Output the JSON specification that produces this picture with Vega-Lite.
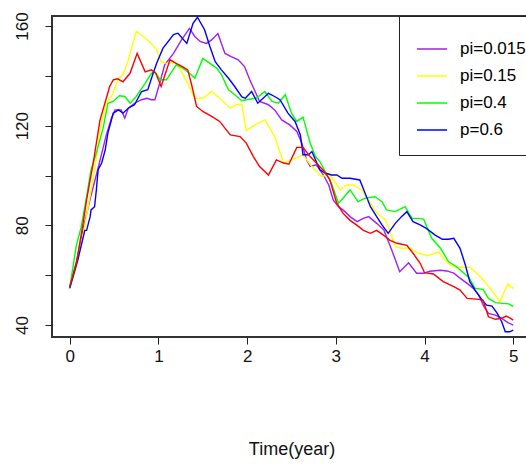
{
  "$schema": "https://vega.github.io/schema/vega-lite/v6.json",
  "width": 479,
  "height": 321,
  "autosize": "none",
  "padding": {"left": 52, "top": 16, "right": 0, "bottom": 135},
  "background": "white",
  "config": {
    "view": {"stroke": "#333", "strokeWidth": 2},
    "font": "Liberation Sans Narrow, Liberation Sans, Arial"
  },
  "data": {"values": [
    {"s":"pi=0.015","t":0,"v":55.3},{"s":"pi=0.015","t":0.08,"v":66},{"s":"pi=0.015","t":0.16,"v":80},{"s":"pi=0.015","t":0.24,"v":92},{"s":"pi=0.015","t":0.32,"v":103},{"s":"pi=0.015","t":0.41,"v":116},{"s":"pi=0.015","t":0.47,"v":123},{"s":"pi=0.015","t":0.51,"v":126.3},{"s":"pi=0.015","t":0.58,"v":126.3},{"s":"pi=0.015","t":0.62,"v":123},{"s":"pi=0.015","t":0.66,"v":127},{"s":"pi=0.015","t":0.73,"v":129},{"s":"pi=0.015","t":0.81,"v":130.4},{"s":"pi=0.015","t":0.87,"v":131},{"s":"pi=0.015","t":0.92,"v":130.4},{"s":"pi=0.015","t":0.96,"v":130.4},{"s":"pi=0.015","t":1.02,"v":137.7},{"s":"pi=0.015","t":1.07,"v":144.4},{"s":"pi=0.015","t":1.17,"v":149},{"s":"pi=0.015","t":1.26,"v":154.4},{"s":"pi=0.015","t":1.35,"v":159},{"s":"pi=0.015","t":1.41,"v":155.8},{"s":"pi=0.015","t":1.47,"v":153.8},{"s":"pi=0.015","t":1.54,"v":153},{"s":"pi=0.015","t":1.6,"v":154.4},{"s":"pi=0.015","t":1.67,"v":157},{"s":"pi=0.015","t":1.75,"v":149},{"s":"pi=0.015","t":1.82,"v":147.7},{"s":"pi=0.015","t":1.9,"v":146.4},{"s":"pi=0.015","t":1.97,"v":143.7},{"s":"pi=0.015","t":2.03,"v":138.4},{"s":"pi=0.015","t":2.09,"v":133.7},{"s":"pi=0.015","t":2.14,"v":129.7},{"s":"pi=0.015","t":2.24,"v":128.4},{"s":"pi=0.015","t":2.31,"v":126.3},{"s":"pi=0.015","t":2.39,"v":122.3},{"s":"pi=0.015","t":2.48,"v":120.3},{"s":"pi=0.015","t":2.56,"v":117.7},{"s":"pi=0.015","t":2.61,"v":113.6},{"s":"pi=0.015","t":2.67,"v":106.3},{"s":"pi=0.015","t":2.71,"v":103.6},{"s":"pi=0.015","t":2.78,"v":104.3},{"s":"pi=0.015","t":2.86,"v":100.2},{"s":"pi=0.015","t":2.92,"v":96.2},{"s":"pi=0.015","t":2.97,"v":90.2},{"s":"pi=0.015","t":3.03,"v":87.5},{"s":"pi=0.015","t":3.08,"v":86.2},{"s":"pi=0.015","t":3.16,"v":83.5},{"s":"pi=0.015","t":3.24,"v":81.5},{"s":"pi=0.015","t":3.31,"v":82.8},{"s":"pi=0.015","t":3.37,"v":83.5},{"s":"pi=0.015","t":3.46,"v":80.8},{"s":"pi=0.015","t":3.54,"v":78.2},{"s":"pi=0.015","t":3.63,"v":70.1},{"s":"pi=0.015","t":3.72,"v":61.4},{"s":"pi=0.015","t":3.82,"v":65},{"s":"pi=0.015","t":3.91,"v":60.8},{"s":"pi=0.015","t":3.99,"v":60.8},{"s":"pi=0.015","t":4.06,"v":61.6},{"s":"pi=0.015","t":4.18,"v":62},{"s":"pi=0.015","t":4.25,"v":61.7},{"s":"pi=0.015","t":4.33,"v":60.8},{"s":"pi=0.015","t":4.4,"v":58.8},{"s":"pi=0.015","t":4.48,"v":56.7},{"s":"pi=0.015","t":4.55,"v":54.7},{"s":"pi=0.015","t":4.61,"v":52},{"s":"pi=0.015","t":4.67,"v":47.4},{"s":"pi=0.015","t":4.72,"v":44.7},{"s":"pi=0.015","t":4.8,"v":44},{"s":"pi=0.015","t":4.87,"v":42.7},{"s":"pi=0.015","t":4.94,"v":41},{"s":"pi=0.015","t":5,"v":40},
    {"s":"pi=0.15","t":0,"v":55},{"s":"pi=0.15","t":0.08,"v":64},{"s":"pi=0.15","t":0.16,"v":78},{"s":"pi=0.15","t":0.22,"v":90},{"s":"pi=0.15","t":0.28,"v":102},{"s":"pi=0.15","t":0.34,"v":118},{"s":"pi=0.15","t":0.41,"v":129},{"s":"pi=0.15","t":0.47,"v":131.7},{"s":"pi=0.15","t":0.55,"v":139},{"s":"pi=0.15","t":0.6,"v":140.4},{"s":"pi=0.15","t":0.66,"v":146.4},{"s":"pi=0.15","t":0.75,"v":157.8},{"s":"pi=0.15","t":0.83,"v":155.8},{"s":"pi=0.15","t":0.92,"v":153},{"s":"pi=0.15","t":0.98,"v":150.4},{"s":"pi=0.15","t":1.03,"v":145.7},{"s":"pi=0.15","t":1.09,"v":145},{"s":"pi=0.15","t":1.19,"v":145.3},{"s":"pi=0.15","t":1.24,"v":143},{"s":"pi=0.15","t":1.32,"v":137.7},{"s":"pi=0.15","t":1.41,"v":131},{"s":"pi=0.15","t":1.5,"v":131},{"s":"pi=0.15","t":1.6,"v":133.7},{"s":"pi=0.15","t":1.69,"v":131},{"s":"pi=0.15","t":1.81,"v":127},{"s":"pi=0.15","t":1.88,"v":128.5},{"s":"pi=0.15","t":1.94,"v":128.5},{"s":"pi=0.15","t":1.99,"v":118},{"s":"pi=0.15","t":2.09,"v":120.3},{"s":"pi=0.15","t":2.2,"v":122.3},{"s":"pi=0.15","t":2.31,"v":115.6},{"s":"pi=0.15","t":2.41,"v":105},{"s":"pi=0.15","t":2.5,"v":106.3},{"s":"pi=0.15","t":2.63,"v":108.3},{"s":"pi=0.15","t":2.73,"v":103.6},{"s":"pi=0.15","t":2.84,"v":99.6},{"s":"pi=0.15","t":2.93,"v":100.5},{"s":"pi=0.15","t":3.05,"v":94.2},{"s":"pi=0.15","t":3.12,"v":96.2},{"s":"pi=0.15","t":3.2,"v":96.2},{"s":"pi=0.15","t":3.29,"v":94.2},{"s":"pi=0.15","t":3.39,"v":88.9},{"s":"pi=0.15","t":3.46,"v":84.9},{"s":"pi=0.15","t":3.56,"v":82.2},{"s":"pi=0.15","t":3.61,"v":77.5},{"s":"pi=0.15","t":3.67,"v":71.4},{"s":"pi=0.15","t":3.74,"v":70.8},{"s":"pi=0.15","t":3.84,"v":70.8},{"s":"pi=0.15","t":3.93,"v":68.8},{"s":"pi=0.15","t":4.04,"v":67.8},{"s":"pi=0.15","t":4.16,"v":69.4},{"s":"pi=0.15","t":4.21,"v":66.8},{"s":"pi=0.15","t":4.29,"v":64.1},{"s":"pi=0.15","t":4.36,"v":63.2},{"s":"pi=0.15","t":4.51,"v":63.2},{"s":"pi=0.15","t":4.63,"v":59.4},{"s":"pi=0.15","t":4.74,"v":54.7},{"s":"pi=0.15","t":4.85,"v":49.4},{"s":"pi=0.15","t":4.94,"v":56.5},{"s":"pi=0.15","t":5,"v":54.7},
    {"s":"pi=0.4","t":0,"v":55},{"s":"pi=0.4","t":0.075,"v":72},{"s":"pi=0.4","t":0.13,"v":79.5},{"s":"pi=0.4","t":0.19,"v":91.5},{"s":"pi=0.4","t":0.24,"v":102.3},{"s":"pi=0.4","t":0.3,"v":109},{"s":"pi=0.4","t":0.38,"v":119.6},{"s":"pi=0.4","t":0.43,"v":129},{"s":"pi=0.4","t":0.49,"v":129.7},{"s":"pi=0.4","t":0.56,"v":132},{"s":"pi=0.4","t":0.62,"v":131.7},{"s":"pi=0.4","t":0.68,"v":129},{"s":"pi=0.4","t":0.75,"v":131.7},{"s":"pi=0.4","t":0.85,"v":137},{"s":"pi=0.4","t":0.92,"v":141},{"s":"pi=0.4","t":0.96,"v":141.7},{"s":"pi=0.4","t":1.02,"v":138.4},{"s":"pi=0.4","t":1.09,"v":138.4},{"s":"pi=0.4","t":1.2,"v":144.4},{"s":"pi=0.4","t":1.28,"v":143},{"s":"pi=0.4","t":1.35,"v":141},{"s":"pi=0.4","t":1.41,"v":139},{"s":"pi=0.4","t":1.5,"v":147},{"s":"pi=0.4","t":1.58,"v":145},{"s":"pi=0.4","t":1.66,"v":143},{"s":"pi=0.4","t":1.71,"v":140.4},{"s":"pi=0.4","t":1.79,"v":134.4},{"s":"pi=0.4","t":1.86,"v":132.4},{"s":"pi=0.4","t":1.94,"v":130},{"s":"pi=0.4","t":1.99,"v":130.4},{"s":"pi=0.4","t":2.1,"v":131},{"s":"pi=0.4","t":2.2,"v":133.7},{"s":"pi=0.4","t":2.28,"v":129.7},{"s":"pi=0.4","t":2.35,"v":129},{"s":"pi=0.4","t":2.43,"v":132.4},{"s":"pi=0.4","t":2.5,"v":125},{"s":"pi=0.4","t":2.56,"v":121.7},{"s":"pi=0.4","t":2.63,"v":123.4},{"s":"pi=0.4","t":2.71,"v":113},{"s":"pi=0.4","t":2.77,"v":107.6},{"s":"pi=0.4","t":2.82,"v":105.6},{"s":"pi=0.4","t":2.88,"v":101.6},{"s":"pi=0.4","t":2.95,"v":96.9},{"s":"pi=0.4","t":3.03,"v":88.9},{"s":"pi=0.4","t":3.08,"v":90.9},{"s":"pi=0.4","t":3.16,"v":94.2},{"s":"pi=0.4","t":3.25,"v":89.5},{"s":"pi=0.4","t":3.33,"v":90.9},{"s":"pi=0.4","t":3.44,"v":91.5},{"s":"pi=0.4","t":3.52,"v":89.5},{"s":"pi=0.4","t":3.57,"v":86.2},{"s":"pi=0.4","t":3.67,"v":85.5},{"s":"pi=0.4","t":3.78,"v":87.5},{"s":"pi=0.4","t":3.86,"v":82.8},{"s":"pi=0.4","t":3.93,"v":82.8},{"s":"pi=0.4","t":3.99,"v":82.5},{"s":"pi=0.4","t":4.08,"v":74.8},{"s":"pi=0.4","t":4.18,"v":70.8},{"s":"pi=0.4","t":4.27,"v":65.4},{"s":"pi=0.4","t":4.36,"v":63.4},{"s":"pi=0.4","t":4.5,"v":59.1},{"s":"pi=0.4","t":4.57,"v":54.7},{"s":"pi=0.4","t":4.66,"v":54.3},{"s":"pi=0.4","t":4.72,"v":50.7},{"s":"pi=0.4","t":4.8,"v":49},{"s":"pi=0.4","t":4.88,"v":48.7},{"s":"pi=0.4","t":4.95,"v":48.5},{"s":"pi=0.4","t":5,"v":47.4},
    {"s":"p=0.6","t":0,"v":54.7},{"s":"p=0.6","t":0.09,"v":66},{"s":"p=0.6","t":0.17,"v":78},{"s":"p=0.6","t":0.19,"v":78},{"s":"p=0.6","t":0.23,"v":83.5},{"s":"p=0.6","t":0.24,"v":86.2},{"s":"p=0.6","t":0.28,"v":87.5},{"s":"p=0.6","t":0.3,"v":94.2},{"s":"p=0.6","t":0.32,"v":102.3},{"s":"p=0.6","t":0.36,"v":105},{"s":"p=0.6","t":0.4,"v":110.3},{"s":"p=0.6","t":0.43,"v":117},{"s":"p=0.6","t":0.49,"v":125},{"s":"p=0.6","t":0.55,"v":126.3},{"s":"p=0.6","t":0.6,"v":125},{"s":"p=0.6","t":0.66,"v":127},{"s":"p=0.6","t":0.73,"v":128.4},{"s":"p=0.6","t":0.81,"v":133.7},{"s":"p=0.6","t":0.88,"v":134.4},{"s":"p=0.6","t":0.94,"v":141},{"s":"p=0.6","t":0.98,"v":145},{"s":"p=0.6","t":1.05,"v":151},{"s":"p=0.6","t":1.17,"v":156.5},{"s":"p=0.6","t":1.22,"v":157.1},{"s":"p=0.6","t":1.32,"v":153},{"s":"p=0.6","t":1.39,"v":161.1},{"s":"p=0.6","t":1.44,"v":163.5},{"s":"p=0.6","t":1.52,"v":158.5},{"s":"p=0.6","t":1.58,"v":151.8},{"s":"p=0.6","t":1.64,"v":145.7},{"s":"p=0.6","t":1.71,"v":142.4},{"s":"p=0.6","t":1.79,"v":139},{"s":"p=0.6","t":1.86,"v":135.7},{"s":"p=0.6","t":1.94,"v":131.5},{"s":"p=0.6","t":1.98,"v":131},{"s":"p=0.6","t":2.05,"v":133.7},{"s":"p=0.6","t":2.12,"v":129},{"s":"p=0.6","t":2.24,"v":133},{"s":"p=0.6","t":2.31,"v":131.7},{"s":"p=0.6","t":2.37,"v":130.4},{"s":"p=0.6","t":2.46,"v":125},{"s":"p=0.6","t":2.54,"v":121.7},{"s":"p=0.6","t":2.6,"v":116.3},{"s":"p=0.6","t":2.63,"v":108.3},{"s":"p=0.6","t":2.69,"v":108.3},{"s":"p=0.6","t":2.73,"v":109.6},{"s":"p=0.6","t":2.77,"v":106.3},{"s":"p=0.6","t":2.82,"v":102.3},{"s":"p=0.6","t":2.88,"v":101},{"s":"p=0.6","t":2.95,"v":100.2},{"s":"p=0.6","t":3.01,"v":100.2},{"s":"p=0.6","t":3.07,"v":98.9},{"s":"p=0.6","t":3.16,"v":98.9},{"s":"p=0.6","t":3.27,"v":98.2},{"s":"p=0.6","t":3.33,"v":92.9},{"s":"p=0.6","t":3.39,"v":87.5},{"s":"p=0.6","t":3.46,"v":83.5},{"s":"p=0.6","t":3.52,"v":80.2},{"s":"p=0.6","t":3.59,"v":76.8},{"s":"p=0.6","t":3.67,"v":80.8},{"s":"p=0.6","t":3.74,"v":83.5},{"s":"p=0.6","t":3.8,"v":85.5},{"s":"p=0.6","t":3.87,"v":81.5},{"s":"p=0.6","t":3.95,"v":80.2},{"s":"p=0.6","t":4.02,"v":78.8},{"s":"p=0.6","t":4.12,"v":76.1},{"s":"p=0.6","t":4.2,"v":74.4},{"s":"p=0.6","t":4.27,"v":74.4},{"s":"p=0.6","t":4.33,"v":74.8},{"s":"p=0.6","t":4.4,"v":70.8},{"s":"p=0.6","t":4.46,"v":64.1},{"s":"p=0.6","t":4.51,"v":57.4},{"s":"p=0.6","t":4.57,"v":54},{"s":"p=0.6","t":4.65,"v":50},{"s":"p=0.6","t":4.7,"v":48},{"s":"p=0.6","t":4.76,"v":47.6},{"s":"p=0.6","t":4.82,"v":44.7},{"s":"p=0.6","t":4.87,"v":41.3},{"s":"p=0.6","t":4.91,"v":37.3},{"s":"p=0.6","t":4.96,"v":37.3},{"s":"p=0.6","t":5,"v":38},
    {"s":"pi=0","t":0,"v":55.4},{"s":"pi=0","t":0.075,"v":64.8},{"s":"pi=0","t":0.15,"v":80.8},{"s":"pi=0","t":0.19,"v":90.2},{"s":"pi=0","t":0.23,"v":98.2},{"s":"pi=0","t":0.26,"v":104},{"s":"pi=0","t":0.34,"v":122},{"s":"pi=0","t":0.45,"v":135.7},{"s":"pi=0","t":0.49,"v":138.4},{"s":"pi=0","t":0.54,"v":138.8},{"s":"pi=0","t":0.6,"v":137.6},{"s":"pi=0","t":0.68,"v":141},{"s":"pi=0","t":0.76,"v":149},{"s":"pi=0","t":0.85,"v":141.6},{"s":"pi=0","t":0.92,"v":142.4},{"s":"pi=0","t":0.97,"v":141},{"s":"pi=0","t":1.03,"v":135.7},{"s":"pi=0","t":1.13,"v":146.4},{"s":"pi=0","t":1.2,"v":145},{"s":"pi=0","t":1.27,"v":143.7},{"s":"pi=0","t":1.33,"v":142.4},{"s":"pi=0","t":1.37,"v":137},{"s":"pi=0","t":1.43,"v":127.7},{"s":"pi=0","t":1.5,"v":125.7},{"s":"pi=0","t":1.6,"v":123.7},{"s":"pi=0","t":1.69,"v":121.7},{"s":"pi=0","t":1.81,"v":116.3},{"s":"pi=0","t":1.92,"v":115.6},{"s":"pi=0","t":1.99,"v":113},{"s":"pi=0","t":2.07,"v":107.6},{"s":"pi=0","t":2.14,"v":103.6},{"s":"pi=0","t":2.24,"v":100.2},{"s":"pi=0","t":2.33,"v":106.3},{"s":"pi=0","t":2.41,"v":105},{"s":"pi=0","t":2.47,"v":104.5},{"s":"pi=0","t":2.56,"v":111.3},{"s":"pi=0","t":2.63,"v":111.3},{"s":"pi=0","t":2.71,"v":107.6},{"s":"pi=0","t":2.78,"v":105},{"s":"pi=0","t":2.86,"v":102},{"s":"pi=0","t":2.93,"v":98.5},{"s":"pi=0","t":3.01,"v":88.9},{"s":"pi=0","t":3.08,"v":84.9},{"s":"pi=0","t":3.16,"v":82},{"s":"pi=0","t":3.24,"v":80},{"s":"pi=0","t":3.31,"v":78},{"s":"pi=0","t":3.39,"v":76.8},{"s":"pi=0","t":3.46,"v":78},{"s":"pi=0","t":3.54,"v":76},{"s":"pi=0","t":3.61,"v":74},{"s":"pi=0","t":3.69,"v":72.8},{"s":"pi=0","t":3.8,"v":72},{"s":"pi=0","t":3.87,"v":68.8},{"s":"pi=0","t":3.95,"v":64.8},{"s":"pi=0","t":4,"v":61},{"s":"pi=0","t":4.1,"v":60.5},{"s":"pi=0","t":4.21,"v":57.4},{"s":"pi=0","t":4.33,"v":55.4},{"s":"pi=0","t":4.4,"v":54},{"s":"pi=0","t":4.48,"v":50.7},{"s":"pi=0","t":4.61,"v":50.3},{"s":"pi=0","t":4.66,"v":50},{"s":"pi=0","t":4.72,"v":43.3},{"s":"pi=0","t":4.8,"v":42.3},{"s":"pi=0","t":4.87,"v":42.7},{"s":"pi=0","t":4.92,"v":43.6},{"s":"pi=0","t":4.97,"v":42.7},{"s":"pi=0","t":5,"v":42}
  ]},
  "mark": {"type": "line", "strokeWidth": 1.4, "clip": true},
  "encoding": {
    "x": {
      "field": "t", "type": "quantitative",
      "scale": {"domain": [-0.2, 5.2], "nice": false, "zero": false},
      "axis": {"values": [0, 1, 2, 3, 4, 5], "title": "Time(year)", "domain": false, "grid": false,
        "tickSize": 7, "tickColor": "#222", "labelFontSize": 17, "labelPadding": 4, "labelColor": "#111",
        "labelFlush": false, "titleFontSize": 18, "titleFontWeight": "normal", "titleColor": "#111", "titlePadding": 76}
    },
    "y": {
      "field": "v", "type": "quantitative",
      "scale": {"domain": [35.2, 164], "nice": false, "zero": false},
      "axis": {"values": [40, 60, 80, 100, 120, 140, 160], "labelExpr": "datum.value % 40 == 0 ? datum.label : ''",
        "title": null, "domain": false, "grid": false, "tickSize": 7, "tickColor": "#222",
        "labelAngle": -90, "labelAlign": "center", "labelBaseline": "bottom", "labelFontSize": 17,
        "labelPadding": 14, "labelColor": "#111", "labelFlush": false}
    },
    "color": {
      "field": "s", "type": "nominal",
      "scale": {"domain": ["pi=0.015", "pi=0.15", "pi=0.4", "p=0.6", "pi=0"],
        "range": ["#A020F0", "#FFFF00", "#00FF00", "#0000FF", "#FF0000"]},
      "legend": {"values": ["pi=0.015", "pi=0.15", "pi=0.4", "p=0.6"], "title": null, "orient": "none",
        "legendX": 347, "legendY": 0, "padding": 17, "strokeColor": "#222", "fillColor": "white",
        "symbolType": "stroke", "symbolSize": 900, "symbolStrokeWidth": 1.5, "labelFontSize": 17,
        "labelOffset": 12, "rowPadding": 3, "labelColor": "#000"}
    }
  }
}
